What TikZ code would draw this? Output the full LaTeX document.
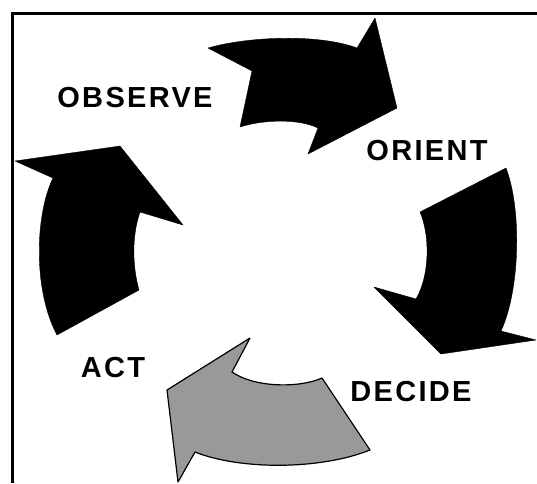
\documentclass[tikz,border=0pt]{standalone}
\usepackage{fontspec}
\setmainfont{Liberation Sans}
\usepackage{tikz}
\usetikzlibrary{positioning}

\begin{document}
\begin{tikzpicture}[
    x=1pt, y=-1pt,
    darkarrow/.style={fill=black, draw=black, line join=round},
    lightarrow/.style={fill=black!40, draw=black, line width=1.2pt, line join=round},
    phase/.style={inner sep=0pt, anchor=base, font=\fontsize{29}{34}\selectfont\bfseries\addfontfeature{LetterSpace=8}},
    frame/.style={line width=3pt}
]
\useasboundingbox (0,0) rectangle (537,483);
\draw[frame] (12,483) -- (12,13) -- (537,13);

% OBSERVE -> ORIENT
\filldraw[darkarrow] (208,48) .. controls (250,36) and (320,34) .. (357,48) -- (375,18) -- (397,108)
    -- (308,154) -- (318,128) .. controls (300,119) and (265,119) .. (240,127) -- (252,71) -- cycle;
% ORIENT -> DECIDE
\filldraw[darkarrow] (506,168) -- (420,212) .. controls (430,235) and (430,275) .. (416,299)
    -- (374,287) -- (441,354) -- (536,340) -- (501,331) .. controls (520,290) and (522,210) .. cycle;
% DECIDE -> ACT
\filldraw[lightarrow] (370,450) -- (322,378) .. controls (300,388) and (255,388) .. (232,372)
    -- (250,338) -- (167,390) -- (178,482) -- (195,452) .. controls (240,470) and (320,470) .. cycle;
% ACT -> OBSERVE
\filldraw[darkarrow] (15,161) -- (120,146) -- (183,225) -- (140,212) .. controls (132,235) and (132,265) .. (139,290)
    -- (57,335) .. controls (33,290) and (35,215) .. (53,178) -- cycle;

\node[phase] (observe) at (135,107) {OBSERVE};
\node[phase] (orient) at (427,160) {ORIENT};
\node[phase] (decide) at (411,401) {DECIDE};
\node[phase] (act) at (113,377) {ACT};
\end{tikzpicture}
\end{document}
